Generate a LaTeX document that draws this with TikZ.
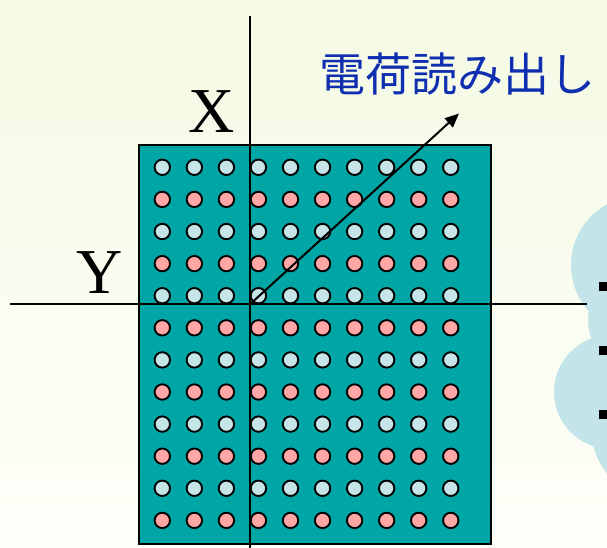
\documentclass[tikz,border=0pt]{standalone}
\usepackage{fontspec}
\setmainfont{Liberation Serif}
\newfontfamily\jpfont{Noto Sans CJK JP}
\usetikzlibrary{arrows.meta}
\definecolor{panelteal}{RGB}{0,165,165}
\definecolor{dotblue}{RGB}{197,229,233}
\definecolor{dotpink}{RGB}{255,166,166}
\definecolor{cloudblue}{RGB}{195,228,232}
\definecolor{textblue}{RGB}{16,46,176}
\definecolor{bgtop}{RGB}{244,250,228}
\definecolor{bgbottom}{RGB}{254,255,249}

\begin{document}
\begin{tikzpicture}[x=1pt,y=-1pt,
  axisline/.style={draw=black,line width=2pt},
  pixel/.style={circle,draw=black,line width=1.9pt,minimum size=15.4pt,inner sep=0pt},
  oddrow/.style={pixel,fill=dotblue},
  evenrow/.style={pixel,fill=dotpink},
  axislabel/.style={font=\fontsize{64}{64}\selectfont,anchor=base,inner sep=0pt},
  bullet/.style={fill=black}]
\useasboundingbox (0,0) rectangle (607,548);
\clip (0,0) rectangle (607,548);

% page background
\shade[top color=bgtop,bottom color=bgbottom] (0,0) rectangle (607,548);

% cloud-shaped text box at the right edge
\fill[cloudblue] (640,265) circle[radius=69] (640,320) circle[radius=52]
  (611,392) circle[radius=57] (660,430) circle[radius=68.5];
\fill[bullet] (599,282) rectangle (608,291);
\fill[bullet] (599,346) rectangle (608,354.5);
\fill[bullet] (599,410) rectangle (608,418.5);

% sensor panel
\node (panel) [draw=black,line width=2pt,fill=panelteal,anchor=north west,
  minimum width=351.7pt,minimum height=398.7pt,inner sep=0pt] at (138.3,144.3) {};

% pixel grid: 10 columns, 12 rows, alternating colours by row
\foreach \j in {0,...,11}{
  \foreach \i in {0,...,9}{
    \pgfmathsetmacro{\px}{162.3+32.05*\i}
    \pgfmathsetmacro{\py}{167.3+32.1*\j}
    \ifodd\j
      \node[evenrow] (p-\i-\j) at (\px,\py) {};
    \else
      \node[oddrow] (p-\i-\j) at (\px,\py) {};
    \fi
  }
}

% axes
\coordinate (ytop) at (250.3,16);
\coordinate (ybottom) at (250.3,548);
\coordinate (xleft) at (10,304);
\coordinate (xright) at (587,304);
\coordinate (origin) at (250.3,304);
\draw[axisline] (ytop) -- (ybottom);
\draw[axisline] (xleft) -- (xright);

\node[axislabel] (xlab) at (212,133) {X};
\node[axislabel] (ylab) at (100,293) {Y};

% charge readout direction
\node (readout) [font=\jpfont\fontsize{46}{46}\selectfont,text=textblue,inner sep=0pt] at (457,74) {電荷読み出し};
\coordinate (tip) at (459,113.5);
\draw[axisline,-{Triangle[length=14pt,width=12pt]}] (origin) -- (tip);
\end{tikzpicture}
\end{document}
